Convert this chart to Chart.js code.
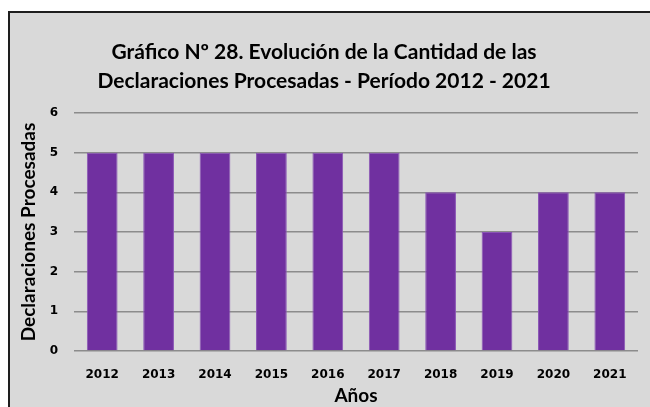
<!DOCTYPE html>
<html>
<head>
<meta charset="utf-8">
<script src="https://cdn.jsdelivr.net/npm/chart.js@4.4.0/dist/chart.umd.min.js"></script>
<style>
    html, body { margin: 0; background: #fff; overflow: hidden; }
    .frame {
        position: absolute; left: 8px; top: 11px;
        width: 640px; height: 394px;
        background: #d9d9d9;
        border-left: 2px solid #1e1e1e;
        border-top: 2px solid #1e1e1e;
    }
    canvas { display: block; }
</style>
</head>
<body>
<div class="frame">
    <canvas id="chart" width="640" height="394"></canvas>
</div>
<script>
    const years = ['2012', '2013', '2014', '2015', '2016', '2017', '2018', '2019', '2020', '2021'];
    const declaraciones = [5, 5, 5, 5, 5, 5, 4, 3, 4, 4];
    const titleLines = ['Gráfico Nº 28. Evolución de la Cantidad de las', 'Declaraciones Procesadas - Período 2012 - 2021'];

    const ctx = document.getElementById('chart').getContext('2d');
    new Chart(ctx, {
        type: 'bar',
        data: {
            labels: years,
            datasets: [{
                data: declaraciones,
                backgroundColor: '#7030a0',
                borderColor: '#8a55b5',
                borderWidth: 1,
                barPercentage: 0.545,
                categoryPercentage: 1
            }]
        },
        options: {
            responsive: false,
            devicePixelRatio: 1,
            animation: false,
            layout: { padding: { left: 0, right: 12, top: 0, bottom: 0 } },
            plugins: {
                legend: { display: false },
                tooltip: { enabled: false },
                title: {
                    display: true,
                    text: titleLines,
                    color: '#000',
                    font: { family: 'Lato', weight: 'bold', size: 21, lineHeight: 1.38 },
                    padding: { top: 25, bottom: 17 }
                }
            },
            scales: {
                x: {
                    grid: { display: false },
                    border: { display: false },
                    ticks: {
                        color: '#000',
                        padding: 9,
                        font: { family: 'DejaVu Sans', weight: 'bold', size: 12 }
                    },
                    title: {
                        display: true,
                        text: 'Años',
                        color: '#000',
                        font: { family: 'Lato', weight: 'bold', size: 19 },
                        padding: { top: 0, bottom: 0 }
                    },
                    afterFit: (scale) => { scale.height = 56; }
                },
                y: {
                    min: 0,
                    max: 6,
                    grid: { color: '#8c8c8c', lineWidth: 1.5, drawTicks: false },
                    border: { display: false },
                    ticks: {
                        stepSize: 1,
                        color: '#000',
                        padding: 16,
                        font: { family: 'DejaVu Sans', weight: 'bold', size: 12 }
                    },
                    title: {
                        display: true,
                        text: 'Declaraciones Procesadas',
                        color: '#000',
                        font: { family: 'Lato', weight: 'bold', size: 19 },
                        padding: { top: 7, bottom: 0 }
                    },
                    afterFit: (scale) => { scale.width = 64; }
                }
            }
        }
    });
</script>
</body>
</html>
